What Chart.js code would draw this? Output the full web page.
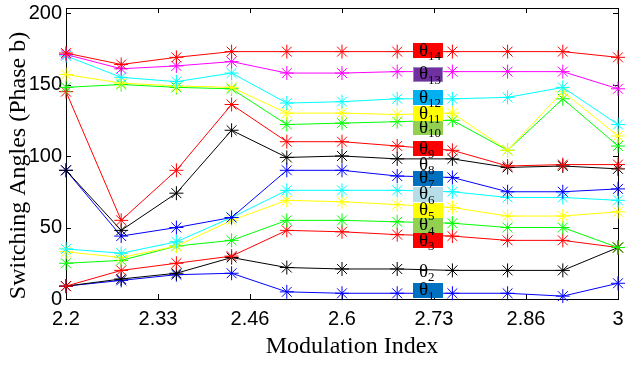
<!DOCTYPE html>
<html>
<head>
    <meta charset="UTF-8">
    <title>Switching Angles (Phase b)</title>
    <script src="https://cdn.jsdelivr.net/npm/chart.js"></script>
    <style>
        body { margin: 0; background: #fff; }
        #wrap { width: 628px; height: 365px; }
    </style>
</head>
<body>
    <div id="wrap"><canvas id="angleChart" width="628" height="365"></canvas></div>

    <script>
        // modulation index sweep
        const mIndex = [2.2, 2.28, 2.36, 2.44, 2.52, 2.6, 2.68, 2.76, 2.84, 2.92, 3.0];

        // switching angles, degrees
        const theta1  = [9, 13, 17, 18, 5, 4, 4, 4, 4, 2, 11];
        const theta2  = [9, 14, 18, 29, 22, 21, 21, 20, 20, 20, 36];
        const theta3  = [9, 20, 25, 30, 48, 47, 45, 44, 41, 41, 36];
        const theta4  = [25, 27, 37, 41, 55, 55, 54, 53, 50, 50, 36];
        const theta5  = [33, 29, 37, 55, 69, 68, 66, 64, 58, 58, 61];
        const theta6  = [35, 32, 40, 57, 76, 76, 76, 75, 71, 71, 69];
        const theta7  = [90, 44, 50, 57, 90, 90, 86, 85, 75, 75, 77];
        const theta8  = [90, 48, 74, 118, 99, 100, 98, 98, 92, 93, 91];
        const theta9  = [145, 55, 90, 136, 110, 110, 107, 104, 93, 94, 94];
        const theta10 = [148, 150, 148, 147, 122, 123, 124, 125, 104, 140, 107];
        const theta11 = [157, 151, 149, 148, 130, 130, 129, 130, 104, 145, 114];
        const theta12 = [170, 155, 152, 158, 137, 138, 140, 140, 141, 148, 122];
        const theta13 = [171, 161, 163, 166, 158, 158, 159, 159, 159, 159, 147];
        const theta14 = [172, 164, 169, 173, 173, 173, 173, 173, 173, 173, 169];

        const seriesValues = [theta1, theta2, theta3, theta4, theta5, theta6, theta7,
                              theta8, theta9, theta10, theta11, theta12, theta13, theta14];
        const lineColors = ['#0000ff', '#000000', '#ff0000', '#00ff00', '#ffff00', '#00ffff', '#0000ff',
                            '#000000', '#ff0000', '#00ff00', '#ffff00', '#00ffff', '#ff00ff', '#ff0000'];

        // axis ticks
        const xTicks = [2.2, 2.3333, 2.4667, 2.6, 2.7333, 2.8667, 3.0];
        const xTickLabels = ['2.2', '2.33', '2.46', '2.6', '2.73', '2.86', '3'];
        const yTicks = [0, 50, 100, 150, 200];

        const xTitle = 'Modulation Index';
        const yTitle = 'Switching Angles (Phase b)';

        // theta tags inside the plot
        const tagX = 2.725;
        const tagY = [6.1, 19, 40.7, 51.5, 62, 73.2, 84.4, 93.8, 105, 119.6, 129.7, 140.9, 157, 173.7];
        const tagFill = ['#0070c0', null, '#ff0000', '#92d050', '#ffff00', '#b7dee8', '#0070c0',
                         null, '#ff0000', '#92d050', '#ffff00', '#00b0f0', '#7030a0', '#ff0000'];

        const serif = '"Liberation Serif", "Times New Roman", serif';
        const sans = '"Liberation Sans", Arial, sans-serif';

        const datasets = seriesValues.map((vals, i) => ({
            label: 'θ' + (i + 1),
            data: vals.map((v, j) => ({ x: mIndex[j], y: v })),
            borderColor: lineColors[i],
            backgroundColor: lineColors[i],
            borderWidth: 1,
            pointStyle: 'star',
            pointRadius: 7,
            pointBorderWidth: 1,
            pointBorderColor: lineColors[i],
            tension: 0,
            clip: false,
            order: seriesValues.length - 1 - i
        }));

        // frame, inward ticks and axis titles
        const framePlugin = {
            id: 'frame',
            beforeDatasetsDraw(chart) {
                const { ctx, chartArea: a, scales } = chart;
                ctx.save();
                ctx.strokeStyle = '#000';
                ctx.lineWidth = 1;
                ctx.strokeRect(Math.round(a.left) + 0.5, Math.round(a.top) + 0.5,
                               Math.round(a.right - a.left), Math.round(a.bottom - a.top));
                ctx.beginPath();
                xTicks.forEach(t => {
                    const px = Math.round(scales.x.getPixelForValue(t)) + 0.5;
                    ctx.moveTo(px, a.bottom); ctx.lineTo(px, a.bottom - 5);
                    ctx.moveTo(px, a.top); ctx.lineTo(px, a.top + 5);
                });
                yTicks.forEach(t => {
                    const py = Math.round(scales.y.getPixelForValue(t)) + 0.5;
                    ctx.moveTo(a.left, py); ctx.lineTo(a.left + 5, py);
                    ctx.moveTo(a.right, py); ctx.lineTo(a.right - 5, py);
                });
                ctx.stroke();

                ctx.fillStyle = '#000';
                ctx.font = '24px ' + serif;
                ctx.textAlign = 'center';
                ctx.textBaseline = 'middle';
                ctx.fillText(xTitle, (a.left + a.right) / 2 + 10, a.bottom + 48);
                ctx.translate(19, (a.top + a.bottom) / 2 + 12);
                ctx.rotate(-Math.PI / 2);
                ctx.fillText(yTitle, 0, 0);
                ctx.restore();
            }
        };

        const tagPlugin = {
            id: 'thetaTags',
            afterDatasetsDraw(chart) {
                const { ctx, scales } = chart;
                const w = 30, h = 15;
                ctx.save();
                tagY.forEach((v, i) => {
                    const cx = scales.x.getPixelForValue(tagX);
                    const cy = scales.y.getPixelForValue(v);
                    const left = Math.round(cx - w / 2), top = Math.round(cy - h / 2);
                    if (tagFill[i]) {
                        ctx.fillStyle = tagFill[i];
                        ctx.fillRect(left, top, w, h);
                        if (i === 12) {
                            ctx.strokeStyle = '#9f86c0';
                            ctx.lineWidth = 1;
                            ctx.strokeRect(left + 0.5, top + 0.5, w - 1, h - 1);
                        }
                    }
                    ctx.fillStyle = '#000';
                    ctx.textAlign = 'left';
                    ctx.textBaseline = 'middle';
                    ctx.font = '19px ' + serif;
                    ctx.fillText('θ', left + 6, cy);
                    const tw = ctx.measureText('θ').width;
                    ctx.font = '13px ' + serif;
                    ctx.textBaseline = 'alphabetic';
                    ctx.fillText(String(i + 1), left + 6 + tw, top + h + 2);
                });
                ctx.restore();
            }
        };

        const chart = new Chart(document.getElementById('angleChart'), {
            type: 'line',
            data: { datasets: datasets },
            plugins: [framePlugin, tagPlugin],
            options: {
                responsive: false,
                devicePixelRatio: 1,
                animation: false,
                layout: { padding: { top: 8, right: 10, left: 0, bottom: 0 } },
                plugins: { legend: { display: false }, tooltip: { enabled: false } },
                scales: {
                    x: {
                        type: 'linear',
                        min: 2.2,
                        max: 3.0,
                        afterBuildTicks: s => { s.ticks = xTicks.map(v => ({ value: v })); },
                        afterFit: s => { s.height = 66; s.paddingLeft = 0; s.paddingRight = 0; },
                        grid: { display: false, drawTicks: false },
                        border: { display: false },
                        ticks: {
                            padding: 8,
                            color: '#000',
                            maxRotation: 0,
                            autoSkip: false,
                            font: { family: sans, size: 20 },
                            callback: (v, i) => xTickLabels[i]
                        }
                    },
                    y: {
                        type: 'linear',
                        min: 0,
                        max: 203.5,
                        afterBuildTicks: s => { s.ticks = yTicks.map(v => ({ value: v })); },
                        afterFit: s => { s.width = 66; s.paddingTop = 0; s.paddingBottom = 0; },
                        grid: { display: false, drawTicks: false },
                        border: { display: false },
                        ticks: {
                            padding: 4,
                            color: '#000',
                            autoSkip: false,
                            font: { family: sans, size: 20 }
                        }
                    }
                }
            }
        });
    </script>
</body>
</html>
